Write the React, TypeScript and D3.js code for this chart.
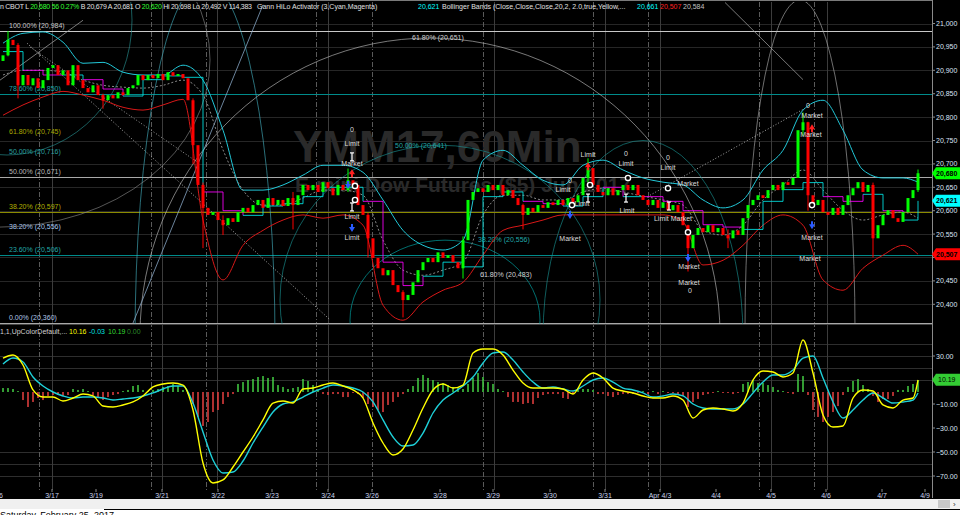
import React from "react";
import * as d3 from "d3";

// ---------- DATA ----------
const firstOpen = 20920;
const closes = [
  20932,20965,20954,20868,20890,20868,20883,20862,20879,20905,
  20911,20890,20900,20868,20911,20879,20862,20853,20868,20847,
  20836,20847,20840,20853,20847,20862,20868,20890,20879,20890,
  20883,20892,20879,20896,20888,20892,20883,20836,20740,20655,
  20606,20591,20597,20580,20569,20584,20576,20597,20606,20597,
  20612,20623,20606,20627,20612,20623,20610,20627,20612,20633,
  20655,20644,20655,20640,20661,20648,20633,20655,20644,20665,
  20655,20612,20591,20541,20499,20477,20462,20473,20441,20426,
  20409,20420,20447,20473,20490,20499,20490,20511,20499,20505,
  20490,20477,20537,20623,20640,20648,20640,20655,20644,20655,
  20633,20644,20627,20612,20591,20606,20597,20612,20606,20618,
  20612,20623,20612,20627,20618,20633,20670,20691,20655,20640,
  20633,20648,20633,20644,20655,20644,20655,20633,20623,20612,
  20623,20606,20618,20601,20612,20597,20569,20520,20548,20563,
  20554,20569,20554,20563,20548,20541,20558,20548,20584,20612,
  20623,20633,20627,20644,20655,20644,20661,20655,20670,20772,
  20789,20633,20612,20623,20597,20591,20606,20591,20612,20633,
  20648,20661,20640,20655,20541,20569,20591,20601,20584,20576,
  20597,20627,20644,20680,
];
// notable wicks: bar index, high, low
const wicks = [
  { i: 1, hi: 20984, lo: 20930 }, { i: 3, hi: 20958, lo: 20840 }, { i: 20, hi: 20850, lo: 20818 },
  { i: 38, hi: 20840, lo: 20700 }, { i: 40, hi: 20660, lo: 20520 }, { i: 44, hi: 20590, lo: 20548 },
  { i: 58, hi: 20640, lo: 20560 }, { i: 69, hi: 20690, lo: 20640 }, { i: 73, hi: 20595, lo: 20500 },
  { i: 80, hi: 20430, lo: 20372 }, { i: 92, hi: 20545, lo: 20455 }, { i: 104, hi: 20615, lo: 20560 },
  { i: 117, hi: 20712, lo: 20660 }, { i: 137, hi: 20570, lo: 20470 }, { i: 145, hi: 20560, lo: 20520 },
  { i: 160, hi: 20810, lo: 20760 }, { i: 161, hi: 20790, lo: 20600 }, { i: 174, hi: 20660, lo: 20500 },
  { i: 183, hi: 20688, lo: 20640 },
];

// Bollinger bands sampled every 4 bars
const bbUpper = [
  20958,20979,20982,20960,20915,20917,20896,20890,20890,20911,
  20879,20772,20644,20644,20655,20676,20697,20697,20682,20623,
  20558,20526,20516,20537,20708,20729,20697,20665,20655,20697,
  20708,20687,20670,20661,20655,20623,20606,20623,20687,20729,
  20815,20836,20772,20687,20670,20670,20661,
];
const bbMid = [
  20890,20900,20900,20896,20879,20868,20864,20862,20868,20879,
  20847,20730,20644,20612,20612,20627,20644,20644,20633,20537,
  20473,20462,20473,20490,20591,20633,20633,20623,20623,20640,
  20648,20640,20631,20623,20612,20558,20548,20569,20623,20655,
  20687,20644,20601,20580,20591,20597,20584,
];
const bbLower = [
  20804,20826,20843,20855,20847,20836,20821,20815,20826,20838,
  20580,20452,20526,20558,20580,20591,20584,20591,20569,20398,
  20366,20405,20430,20447,20505,20558,20569,20580,20591,20591,
  20591,20591,20591,20591,20576,20484,20494,20526,20569,20591,
  20569,20452,20430,20477,20505,20526,20507,
];
// Gann HiLo activator sampled every 4 bars, c = cyan, m = magenta
const hiLo = [
  20940,20900,20890,20890,20880,20860,20845,20880,20888,20885,
  20640,20600,20590,20610,20615,20630,20650,20650,20620,20490,
  20440,20460,20490,20480,20630,20640,20620,20615,20610,20630,
  20650,20630,20630,20620,20600,20570,20565,20560,20620,20645,
  20660,20630,20620,20635,20600,20580,20621,
];
const hiLoState = "cmmcmmccccmmccccccmmmcccccmmccmcmmmmmccccmmcmcc";

// MACD sampled every 2 bars
const macdLine = [
  28.3,30.8,22.5,1.7,-4.2,-4.2,-7.5,-5,-1.7,-3.3,
  -11.7,-12.5,-10.8,-8.3,-3.3,4.2,6.7,7.5,5.8,-15,
  -59.2,-75.8,-73.3,-62.5,-50,-37.5,-23.3,-9.2,-7.5,-9.2,
  2.5,3.3,5.8,7.5,5,1.7,-5,-25.8,-42.5,-52.5,
  -47.5,-31.7,-13.3,1.7,6.7,3.3,5.8,32.5,35.8,35.8,
  30.8,18.3,7.5,3.3,3.3,3.3,2.5,-1.7,10,15.8,
  11.7,3.3,0.8,-0.8,-3.3,-5,-5,-3.3,-6.7,-21.7,
  -15,-13.3,-14.2,-15.8,-9.2,10,17.5,16.7,12.5,15.8,
  43.3,15.8,-19.2,-29.2,-28.3,-5,1.7,0.8,-10.8,-13.3,
  -6.7,-5,10,
];
const signalLine = [
  23.3,28.3,25,12.5,5,0,-3.3,-5,-4.2,-4.2,
  -5,-6.7,-5.8,-5,-3.3,-0.8,2.5,5,5,-9.2,
  -33.3,-56.7,-67.5,-66.7,-57.5,-42.5,-29.2,-16.7,-10,-8.3,
  -4.2,0,3.3,5.8,5,3.3,0,-8.3,-23.3,-37.5,
  -45,-44.2,-34.2,-17.5,-6.7,-0.8,5,12.5,24.2,32.5,
  33.3,26.7,16.7,8.3,3.3,4.2,2.5,0.8,5,10,
  11.7,8.3,3.3,1.7,-0.8,-4.2,-3.3,-1.7,-3.3,-10,
  -13.3,-14.2,-14.2,-14.2,-10,-0.8,8.3,14.2,14.2,18.3,
  28.3,30,11.7,-8.3,-21.7,-15,-6.7,-0.8,-5,-9.2,
  -8.3,-6.7,-0.8,
];
const histogram = [
  3.3,3.3,2.5,0.8,-6.7,-12.5,-8.3,-5,-6.7,-3.3,
  -2.5,-2.5,-3.3,-2.5,2.5,1.7,2.5,0.8,-2.5,-5,
  -6.7,-4.2,-2.5,-1.7,0.8,1.7,5,5.8,1.7,0.8,
  1.7,2.5,4.2,5,6.7,5,1.7,-1.7,-10,-20.8,
  -28.3,-25,-16.7,-15,-10,-4.2,-1.7,6.7,8.3,10,
  10.8,12.5,13.3,11.7,12.5,5.8,4.2,2.5,3.3,4.2,
  10.8,9.2,5.8,2.5,-1.7,-2.5,-1.7,-1.7,-4.2,-4.2,
  -0.8,-1.7,-5,-10,-12.5,-15,-16.7,-10.8,-8.3,-4.2,
  -1.7,2.5,5,11.7,14.2,11.7,10,8.3,7.5,5.8,
  4.2,3.3,2.5,6.7,11.7,15.8,12.5,8.3,6.7,2.5,
  0.8,-4.2,-8.3,-8.3,-10,-9.2,-10,-5,-2.5,-1.7,
  -1.7,-1.7,-5,-5.8,-1.7,1.7,2.5,2.5,1.7,-1.7,
  -1.7,-3.3,-4.2,-2.5,-1.7,-1.7,-1.7,-0.8,0.8,-1.7,
  0.8,-1.7,0.8,-0.8,-0.8,-1.7,-3.3,-12.5,-8.3,-5.8,
  -2.5,-1.7,-0.8,0.8,-0.8,-0.8,-1.7,-0.8,6.7,8.3,
  10,7.5,7.5,5.8,4.2,1.7,0.8,-0.8,-1.7,15,
  13.3,-2.5,-15,-20.8,-25,-20.8,-16.7,-11.7,-2.5,4.2,
  9.2,10.8,5.8,2.5,-3.3,-8.3,-5.8,-5.8,-3.3,1.7,
  1.7,5,6.7,10,
];

const priceTicks = [21000,20950,20900,20850,20800,20750,20700,20650,20600,20550,20500,20450,20400];
const macdTicks = [30,10,-10,-30,-50,-70];
const macdGrid = [40,30,20,10,-50,-60,-70];

const dateLabels = ["3/16","3/17","3/19","3/21","3/22","3/23","3/24","3/26","3/28","3/29","3/30","3/31","Apr 4/3","4/4","4/5","4/6","4/7","4/9"];
const datePositions = [-1.4,9.8,18.6,31.8,43,53.8,65,73.8,87.4,98,109.4,120.4,131.4,142.6,153.6,164.6,175.8,184.4];
const sessionLines = [7.2,29.6,40.6,62.6,73.8,96,118,129,151.2,162.2];
const dayLines = [9.8,31.8,42.8,65,98.2,120.4,131.4,153.6,164.8];

const fibLevels = [20984,20850,20671,20597,20506,20360];
const fibLineColors = ["#c8c8c8","#008b8b","#a9a9a9","#8b8b00","#008b8b","#a9a9a9"];
const fibTexts = ["100.00% (20,984)","78.60% (20,850)","50.00% (20,671)","38.20% (20,597)","23.60% (20,506)","0.00% (20,360)"];
const fibTextColors = ["#c8c8c8","#20a8a8","#b8b8b8","#b0b000","#20a8a8","#b0c8e8"];
const fibExtraLevels = [20757,20715,20554];
const fibExtraTexts = ["61.80% (20,745)","50.00% (20,716)","38.20% (20,556)"];
const fibExtraColors = ["#a8a800","#2aa0a0","#a8c8f0"];

// Gann arcs: centre (bar, price), radii (bars, points)
const gannArcs = [
  { ci: 85.4, cp: 20334, ri: 58, rp: 635, c: "#c8c8c8" },
  { ci: 87.4, cp: 20409, ri: 32, rp: 331, c: "#1a9a9a" },
  { ci: 88.4, cp: 20366, ri: 19, rp: 171, c: "#00b5b5" },
  { ci: 40.4, cp: 20323, ri: 14, rp: 769, c: "#46b8c8" },
  { ci: 159.4, cp: 20345, ri: 11, rp: 705, c: "#b8b8b8" },
  { ci: 0.8, cp: 21007, ri: 25, rp: 288, c: "#2a9a9a" },
  { ci: -0.6, cp: 20922, ri: 42, rp: 357, c: "#909090" },
  { ci: 128, cp: 20330, ri: 20, rp: 420, c: "#1a9a9a" },
];
const fanLines = [
  { i1: 4.8, p1: 20958, i2: 65.4, p2: 20367, c: "#e0e0e0", d: "1,2" },
  { i1: 5.4, p1: 20950, i2: 39.4, p2: 20700, c: "#d0d0d0", d: "1,2" },
  { i1: -0.6, p1: 20879, i2: 16, p2: 21007, c: "#a0a0a0", d: "" },
  { i1: 129.4, p1: 20633, i2: 160.4, p2: 20819, c: "#e0e0e0", d: "1,2" },
  { i1: 144.4, p1: 21045, i2: 160, p2: 20880, c: "#a0a0a0", d: "" },
  { i1: 26, p1: 20360, i2: 52, p2: 21040, c: "#8fb0d0", d: "" },
];
const arcLabels = [
  { i: 81.8, p: 20965, t: "61.80% (20,651)", c: "#d0d0d0" },
  { i: 78.4, p: 20734, t: "50.00% (20,641)", c: "#20a8a8" },
  { i: 95, p: 20533, t: "38.20% (20,556)", c: "#20a8a8" },
  { i: 95.4, p: 20458, t: "61.80% (20,483)", c: "#d0d0d0" },
];

const orderTexts = [
  { i: 69.8, p: 20768, t: "0" }, { i: 69.8, p: 20738, t: "Limit" }, { i: 69.8, p: 20695, t: "Market" },
  { i: 69.8, p: 20582, t: "Limit" }, { i: 69.8, p: 20537, t: "Limit" },
  { i: 117, p: 20714, t: "Limit" }, { i: 113.4, p: 20659, t: "0" }, { i: 112, p: 20640, t: "Limit" },
  { i: 115.8, p: 20610, t: "Limit" }, { i: 113.4, p: 20535, t: "Market" },
  { i: 124.6, p: 20717, t: "0" }, { i: 124.6, p: 20695, t: "Limit" }, { i: 124.8, p: 20595, t: "Limit" },
  { i: 133, p: 20708, t: "0" }, { i: 133, p: 20687, t: "Limit" }, { i: 137, p: 20653, t: "Market" },
  { i: 134, p: 20578, t: "Limit Market" }, { i: 137.2, p: 20475, t: "Market" }, { i: 137.2, p: 20441, t: "Market" },
  { i: 137.4, p: 20424, t: "0" }, { i: 161, p: 20819, t: "0" }, { i: 161.8, p: 20798, t: "Market" },
  { i: 161.6, p: 20757, t: "Market" }, { i: 161.8, p: 20537, t: "Market" }, { i: 161.4, p: 20492, t: "Market" },
];
const orderMarks = [
  { i: 69.8, p: 20715, k: "I" }, { i: 69.8, p: 20680, k: "R" }, { i: 69, p: 20655, k: "B" },
  { i: 70.4, p: 20653, k: "O" }, { i: 70.4, p: 20623, k: "O" }, { i: 69.8, p: 20608, k: "I" },
  { i: 69.8, p: 20563, k: "B" }, { i: 117, p: 20695, k: "R" }, { i: 117.4, p: 20655, k: "O" },
  { i: 117, p: 20627, k: "I" }, { i: 113.8, p: 20612, k: "O" }, { i: 113.4, p: 20591, k: "B" },
  { i: 125, p: 20670, k: "O" }, { i: 124.6, p: 20627, k: "I" }, { i: 133, p: 20648, k: "O" },
  { i: 133.2, p: 20610, k: "I" }, { i: 137, p: 20554, k: "O" }, { i: 137, p: 20499, k: "B" },
  { i: 161.8, p: 20776, k: "R" }, { i: 161.8, p: 20612, k: "O" }, { i: 161.8, p: 20569, k: "B" },
];

const priceTags = [
  { v: 20680, t: "20,680", c: "#00ff00" },
  { v: 20621, t: "20,621", c: "#00ffff" },
  { v: 20507, t: "20,507", c: "#ff0000" },
];
const macdTag = { v: 10.19, t: "10.19", c: "#33cc33" };

const headerLeft: [string, string][] = [
  ["L ", "#e0e0e0"], ["20,680 ", "#33ff33"], [" 56 0.27% ", "#33ff33"],
  [" B ", "#e0e0e0"], ["20,679 ", "#e0e0e0"], [" A ", "#e0e0e0"], ["20,681 ", "#e0e0e0"],
  [" O ", "#e0e0e0"], ["20,620 ", "#33ff33"], [" Hi ", "#e0e0e0"], ["20,698 ", "#e0e0e0"],
  [" Lo ", "#e0e0e0"], ["20,492 ", "#e0e0e0"], [" V ", "#e0e0e0"], ["114,383", "#e0e0e0"],
];
const headerRight: [string, string, number][] = [
  ["Gann HiLo Activator (3,Cyan,Magenta)", "#e0e0e0", 257], ["20,621", "#00ffff", 418],
  ["Bollinger Bands (Close,Close,Close,20,2, 2.0,true,Yellow,...", "#e0e0e0", 442],
  ["20,661", "#00ffff", 637], ["20,507", "#ff2020", 660], ["20,584", "#c0c0c0", 683],
];
const macdHeader: [string, string, number][] = [
  ["1,1,UpColorDefault,...", "#d0d0d0", 0], ["10.16", "#ffff00", 69], ["-0.03", "#00e0e0", 89],
  ["10.19", "#33dd33", 108], ["0.00", "#2a8a2a", 127],
];

const FONT = "'Liberation Sans', Arial, sans-serif";
const AX = 932;

export default function App() {
  const x = d3.scaleLinear().domain([0, 183]).range([3, 918]);
  const y = d3.scaleLinear().domain([20360, 20984]).range([323, 31]);
  const ym = d3.scaleLinear().domain([-70, 30]).range([476, 356]);
  const bbIdx = (k: number) => Math.min(k * 4, 183);
  const mIdx = (k: number) => Math.min(k * 2, 183);

  const band = (arr: number[]) =>
    d3.line<number>().x((_, k) => x(bbIdx(k))).y((v) => y(v)).curve(d3.curveMonotoneX)(arr) || "";
  const mline = (arr: number[]) =>
    d3.line<number>().x((_, k) => x(mIdx(k))).y((v) => ym(v)).curve(d3.curveMonotoneX)(arr) || "";

  const pxPerBar = x(1) - x(0);
  const pxPerPt = Math.abs(y(1) - y(0));

  return (
    <svg width={960} height={515} style={{ position: "absolute", left: 0, top: 0, display: "block" }} fontFamily={FONT}>
      <defs>
        <clipPath id="pclip"><rect x={0} y={2} width={AX} height={322} /></clipPath>
        <clipPath id="mclip"><rect x={0} y={326} width={AX} height={164} /></clipPath>
      </defs>
      <rect x={0} y={0} width={960} height={515} fill="#000" />

      {priceTicks.map((t) => (
        <line key={"pg" + t} x1={0} x2={AX} y1={Math.round(y(t)) + 0.5} y2={Math.round(y(t)) + 0.5} stroke="#262626" />
      ))}
      {macdGrid.map((t) => (
        <line key={"mg" + t} x1={0} x2={AX} y1={Math.round(ym(t)) + 0.5} y2={Math.round(ym(t)) + 0.5} stroke="#2e2e2e" />
      ))}
      {sessionLines.map((s) => (
        <line key={"sl" + s} x1={Math.round(x(s)) + 0.5} x2={Math.round(x(s)) + 0.5} y1={2} y2={490} stroke="#5a5a5a" strokeDasharray="5,2,1,2" />
      ))}
      {dayLines.map((s) => (
        <line key={"dl" + s} x1={Math.round(x(s)) + 0.5} x2={Math.round(x(s)) + 0.5} y1={2} y2={490} stroke="#3c3c3c" />
      ))}

      <text x={293} y={162} fontSize={44} fontWeight="bold" fill="#2a2a2a">YMM17,60Min</text>
      <text x={295} y={192} fontSize={21} fontWeight="bold" fill="#2a2a2a">E-mini Dow Futures ($5) Jun 2017</text>

      <g clipPath="url(#pclip)">
        {fibLevels.map((p, k) => (
          <line key={"fl" + k} x1={0} x2={AX} y1={Math.round(y(p)) + 0.5} y2={Math.round(y(p)) + 0.5} stroke={fibLineColors[k]} strokeWidth={1.2} />
        ))}
        {fibLevels.map((p, k) => (
          <text key={"ft" + k} x={9} y={y(p) - 3} fontSize={7} fill={fibTextColors[k]}>{fibTexts[k]}</text>
        ))}
        {fibExtraLevels.map((p, k) => (
          <text key={"fe" + k} x={9} y={y(p) - 3} fontSize={7} fill={fibExtraColors[k]}>{fibExtraTexts[k]}</text>
        ))}
        {gannArcs.map((a, k) => (
          <ellipse key={"ga" + k} cx={x(a.ci)} cy={y(a.cp)} rx={a.ri * pxPerBar} ry={a.rp * pxPerPt} fill="none" stroke={a.c} strokeWidth={1} opacity={0.6} />
        ))}
        {fanLines.map((l, k) => (
          <line key={"fan" + k} x1={x(l.i1)} y1={y(l.p1)} x2={x(l.i2)} y2={y(l.p2)} stroke={l.c} strokeDasharray={l.d || undefined} strokeWidth={1} opacity={0.75} />
        ))}
        {arcLabels.map((a, k) => (
          <text key={"al" + k} x={x(a.i)} y={y(a.p)} fontSize={7} fill={a.c}>{a.t}</text>
        ))}

        <path d={band(bbUpper)} fill="none" stroke="#22c8d8" strokeWidth={1} />
        <path d={band(bbLower)} fill="none" stroke="#d81818" strokeWidth={1} />
        <path d={band(bbMid)} fill="none" stroke="#8a8a8a" strokeWidth={1} strokeDasharray="2,2" />

        {hiLo.slice(0, -1).map((v, k) => {
          const x0 = x(bbIdx(k)), x1 = x(bbIdx(k + 1));
          const y0 = y(v), y1 = y(hiLo[k + 1]);
          return (
            <path key={"hl" + k} d={`M${x0},${y0}H${x1}V${y1}`} fill="none"
              stroke={hiLoState[k] === "m" ? "#ff00ff" : "#00e8e8"} strokeWidth={1} opacity={0.85} />
          );
        })}

        {wicks.map((w) => {
          const o = w.i === 0 ? firstOpen : closes[w.i - 1];
          const up = closes[w.i] >= o;
          return <line key={"w" + w.i} x1={x(w.i)} x2={x(w.i)} y1={y(w.hi)} y2={y(w.lo)} stroke={up ? "#00ff00" : "#ff0000"} strokeWidth={1} />;
        })}
        {closes.map((c, i) => {
          const o = i === 0 ? firstOpen : closes[i - 1];
          const up = c >= o;
          const top = y(Math.max(o, c));
          const h = Math.max(1, Math.abs(y(o) - y(c)));
          return <rect key={"c" + i} x={x(i) - 1.5} y={top} width={3} height={h} fill={up ? "#00ff00" : "#ff0000"} />;
        })}

        {orderMarks.map((m, k) => {
          const cx = x(m.i), cy = y(m.p);
          if (m.k === "I")
            return (
              <g key={"om" + k} stroke="#fff" strokeWidth={1.2}>
                <line x1={cx} x2={cx} y1={cy - 4} y2={cy + 4} />
                <line x1={cx - 2} x2={cx + 2} y1={cy - 4} y2={cy - 4} />
                <line x1={cx - 2} x2={cx + 2} y1={cy + 4} y2={cy + 4} />
              </g>
            );
          if (m.k === "R")
            return <path key={"om" + k} d={`M${cx},${cy - 4}L${cx + 3},${cy + 1}L${cx + 1},${cy + 1}L${cx + 1},${cy + 4}L${cx - 1},${cy + 4}L${cx - 1},${cy + 1}L${cx - 3},${cy + 1}Z`} fill="#ff2020" />;
          if (m.k === "B")
            return <path key={"om" + k} d={`M${cx},${cy + 4}L${cx + 3},${cy - 1}L${cx + 1},${cy - 1}L${cx + 1},${cy - 4}L${cx - 1},${cy - 4}L${cx - 1},${cy - 1}L${cx - 3},${cy - 1}Z`} fill="#2a5bff" />;
          return <circle key={"om" + k} cx={cx} cy={cy} r={2.6} fill="#000" stroke="#fff" strokeWidth={1.4} />;
        })}
        {orderTexts.map((o, k) => (
          <text key={"ot" + k} x={x(o.i)} y={y(o.p)} fontSize={7} fill="#dcdcdc" textAnchor="middle">{o.t}</text>
        ))}
      </g>

      <g clipPath="url(#mclip)">
        {histogram.map((h, i) => (
          <rect key={"h" + i} x={x(i) - 0.75} width={1.5}
            y={h >= 0 ? ym(h) : ym(0)} height={Math.max(1, Math.abs(ym(h) - ym(0)))}
            fill={h >= 0 ? "#44d044" : "#e84040"} />
        ))}
        <path d={mline(signalLine)} fill="none" stroke="#1ed0d8" strokeWidth={1.4} />
        <path d={mline(macdLine)} fill="none" stroke="#ffff00" strokeWidth={1.4} />
      </g>

      <line x1={0} x2={AX} y1={0.5} y2={0.5} stroke="#7a7a7a" />
      <line x1={0} x2={AX} y1={324.5} y2={324.5} stroke="#444" />
      <line x1={AX + 0.5} x2={AX + 0.5} y1={0} y2={498} stroke="#8a8a8a" />

      {priceTicks.map((t) => {
        const ty = y(t);
        const hidden = priceTags.some((g) => Math.abs(y(g.v) - ty) < 8);
        return (
          <g key={"pt" + t}>
            <line x1={AX} x2={AX + 3} y1={ty} y2={ty} stroke="#8a8a8a" />
            {!hidden && <text x={AX + 4} y={ty + 2.5} fontSize={7} fill="#dbe4f4">{d3.format(",")(t)}</text>}
          </g>
        );
      })}
      {priceTags.map((g) => {
        const ty = y(g.v);
        return (
          <g key={"tag" + g.t}>
            <path d={`M${AX},${ty}L${AX + 4},${ty - 6}L960,${ty - 6}L960,${ty + 6}L${AX + 4},${ty + 6}Z`} fill={g.c} />
            <text x={AX + 4} y={ty + 2.5} fontSize={7} fontWeight="bold" fill="#000">{g.t}</text>
          </g>
        );
      })}
      {macdTicks.map((t) => {
        const ty = ym(t);
        const hidden = Math.abs(ym(macdTag.v) - ty) < 8;
        return (
          <g key={"mt" + t}>
            <line x1={AX} x2={AX + 3} y1={ty} y2={ty} stroke="#8a8a8a" />
            {!hidden && <text x={AX + 4} y={ty + 2.5} fontSize={7} fill="#dbe4f4">{d3.format(".2f")(t)}</text>}
          </g>
        );
      })}
      <path d={`M${AX},${ym(macdTag.v)}L${AX + 4},${ym(macdTag.v) - 6}L960,${ym(macdTag.v) - 6}L960,${ym(macdTag.v) + 6}L${AX + 4},${ym(macdTag.v) + 6}Z`} fill={macdTag.c} />
      <text x={AX + 6} y={ym(macdTag.v) + 2.5} fontSize={7} fill="#000">{macdTag.t}</text>

      {dateLabels.map((d, k) => (
        <g key={"d" + k}>
          <line x1={x(datePositions[k])} x2={x(datePositions[k])} y1={489} y2={492} stroke="#8a8a8a" />
          <text x={x(datePositions[k])} y={497.5} fontSize={7} fill="#c8d4ec" textAnchor="middle">{d}</text>
        </g>
      ))}

      <text x={0} y={9} fontSize={7} textLength={252} lengthAdjust="spacing">
        <tspan fill="#e0e0e0">n CBOT  </tspan>
        {headerLeft.map(([t, c], k) => (
          <tspan key={"hl" + k} fill={c}>{t}</tspan>
        ))}
      </text>
      {headerRight.map(([t, c, px], k) => (
        <text key={"hd" + k} x={px} y={9} fontSize={7} fill={c}>{t}</text>
      ))}
      {macdHeader.map(([t, c, px], k) => (
        <text key={"mh" + k} x={px} y={334} fontSize={7} fill={c}>{t}</text>
      ))}

      <rect x={0} y={499} width={960} height={10} fill="#f0f0f0" />
      <rect x={938} y={500} width={12} height={8} fill="#c8c8c8" />
      <text x={953} y={507} fontSize={8} fill="#333">›</text>
      <rect x={0} y={509} width={960} height={6} fill="#ffffff" />
      <line x1={104} x2={960} y1={509.5} y2={509.5} stroke="#000" />
      <text x={0} y={518} fontSize={9} fill="#000">Saturday, February 25, 2017</text>
    </svg>
  );
}
